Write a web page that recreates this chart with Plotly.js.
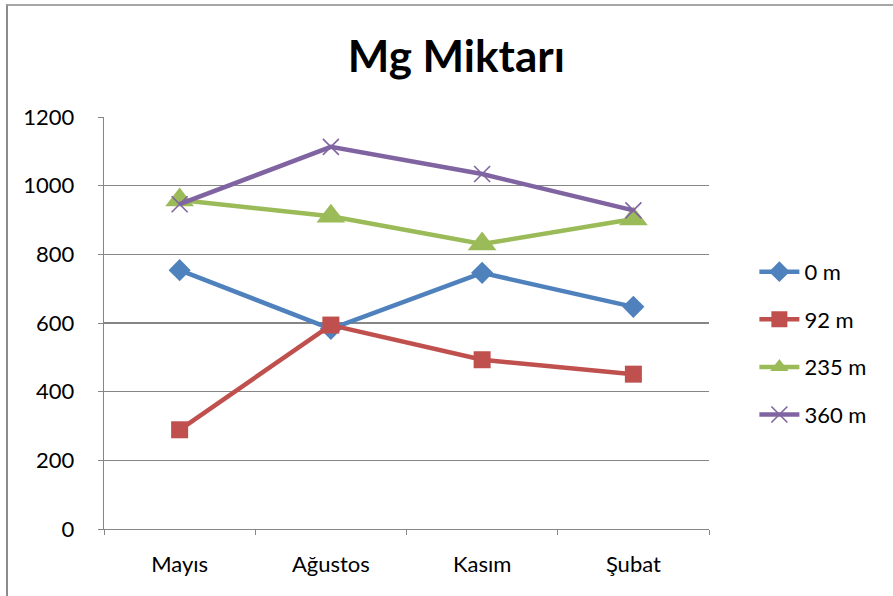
<!DOCTYPE html>
<html>
<head>
<meta charset="utf-8">
<script src="https://cdn.plot.ly/plotly-3.0.1.min.js"></script>
<style>
html,body{margin:0;padding:0;background:#fff;}
#wrap{position:relative;width:893px;height:596px;overflow:hidden;}
#chart{width:893px;height:596px;}
#frame{position:absolute;left:6px;top:4px;width:900px;height:590px;border-left:2px solid #8c8c8c;border-top:2px solid #a6a6a6;border-bottom:1px solid #c8c8c8;pointer-events:none;}
</style>
</head>
<body>
<div id="wrap"><div id="chart"></div><div id="frame"></div></div>
<script>
const categories = ['Mayıs', 'Ağustos', 'Kasım', 'Şubat'];
const seriesNames = ['0 m', '92 m', '235 m', '360 m'];
const s0 = [754, 583, 746, 647];
const s92 = [289, 594, 493, 451];
const s235 = [958, 911, 830, 903];
const s360 = [946, 1113, 1034, 928];
const yTicks = [0, 200, 400, 600, 800, 1000, 1200];

const colors = ['#4F81BD', '#C0504D', '#9BBB59', '#8064A2'];
const symbols = ['diamond', 'square', 'triangle-up', 'x-thin-open'];
const sizes = [17, 17, 25, 16];
const values = [s0, s92, s235, s360];

const traces = values.map((v, i) => ({
  type: 'scatter',
  mode: 'lines+markers',
  x: categories,
  y: v,
  name: seriesNames[i],
  legendgroup: 'g' + i,
  line: {color: colors[i], width: 4.5},
  marker: {
    symbol: symbols[i],
    size: sizes[i],
    color: colors[i],
    line: {color: colors[i], width: i === 3 ? 1.6 : 0}
  }
}));

const font = "Lato, 'Open Sans', sans-serif";
const layout = {
  width: 893, height: 596,
  margin: {l: 103.5, r: 183.5, t: 117, b: 67},
  paper_bgcolor: '#fff', plot_bgcolor: '#fff',
  font: {family: font, color: '#000', size: 22},
  title: {text: '<b>Mg Miktarı</b>', font: {family: font, size: 44, color: '#000'}, x: 0.511, xanchor: 'center', y: 0.905, yanchor: 'middle'},
  showlegend: true,
  legend: {
    x: 1.075, xanchor: 'left', y: 0.675, yanchor: 'top',
    traceorder: 'grouped', tracegroupgap: 16,
    font: {family: font, size: 22, color: '#000'},
    itemwidth: 40
  },
  xaxis: {
    type: 'category', range: [-0.5, 3.5], autorange: false,
    showline: true, linecolor: '#868686', linewidth: 1.3,
    ticks: 'outside', tickson: 'boundaries', ticklen: 5, tickcolor: '#868686',
    ticklabelstandoff: 15,
    showgrid: false, zeroline: false,
    tickfont: {family: font, size: 22, color: '#000'}
  },
  yaxis: {
    range: [0, 1200], autorange: false, tickvals: yTicks, ticktext: yTicks.map(String),
    showline: true, linecolor: '#868686', linewidth: 1.3,
    ticks: 'outside', ticklen: 5, tickcolor: '#868686',
    ticklabelstandoff: 19,
    showgrid: true, gridcolor: '#868686', gridwidth: 1.3,
    zeroline: false,
    tickfont: {family: font, size: 22, color: '#000'}
  }
};

Plotly.newPlot('chart', traces, layout, {displayModeBar: false, staticPlot: true});
</script>
</body>
</html>
